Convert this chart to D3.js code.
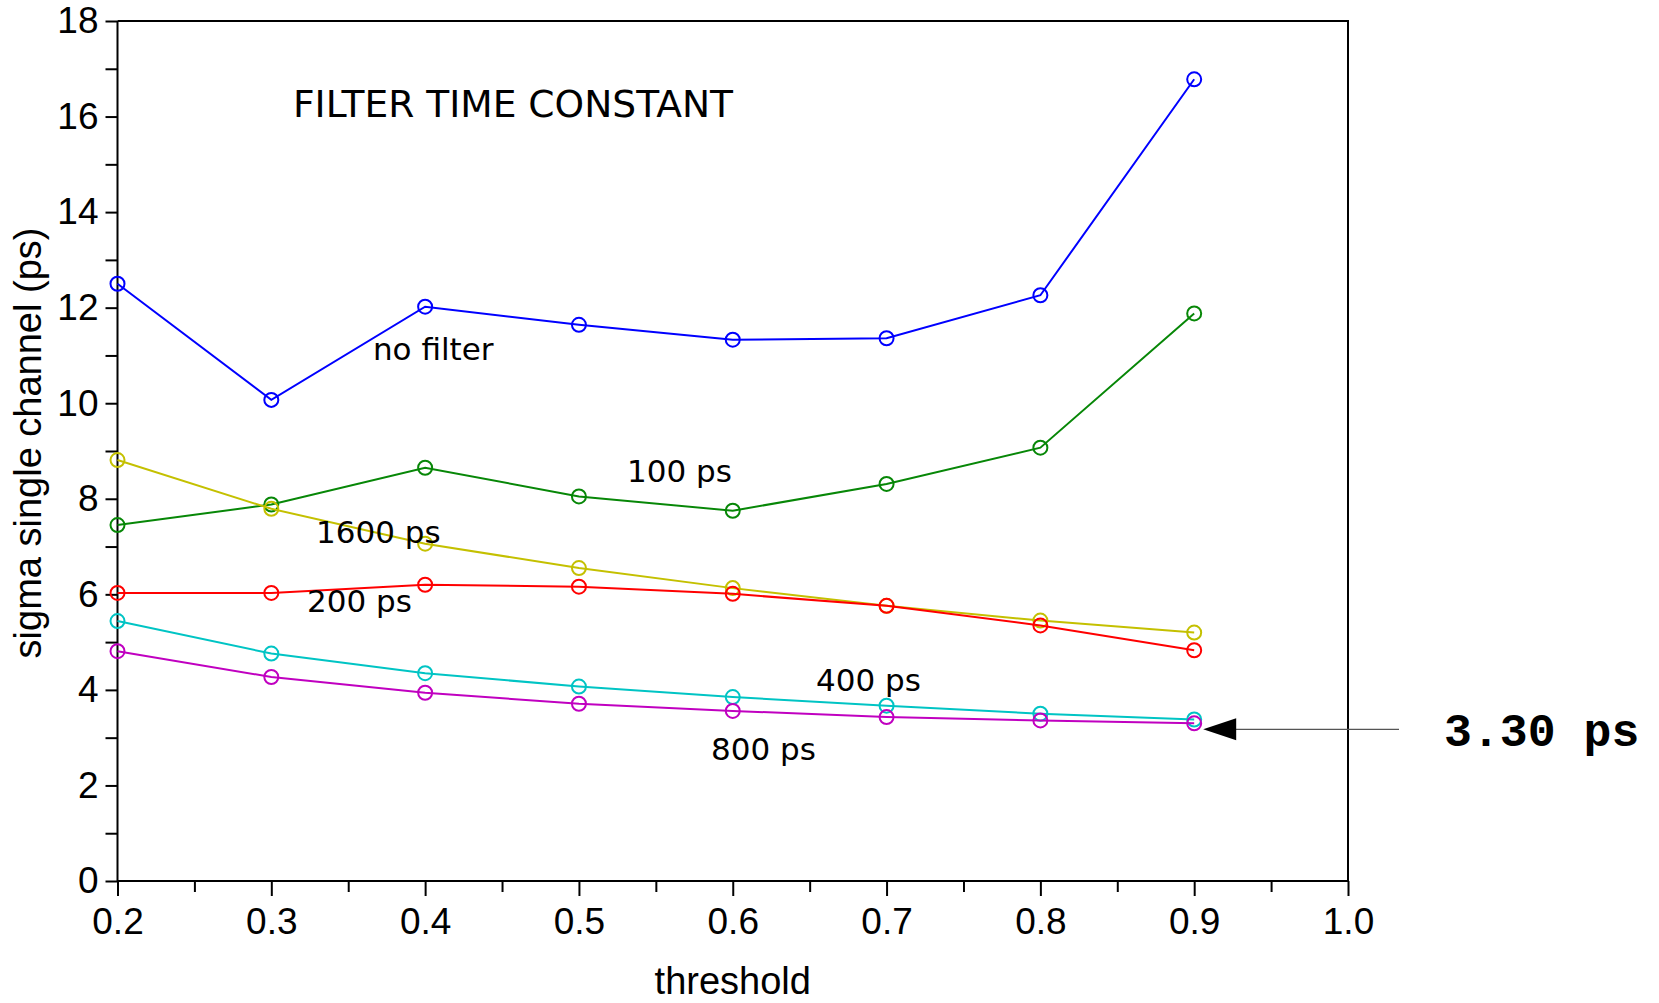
<!DOCTYPE html>
<html>
<head>
<meta charset="utf-8">
<script src="https://cdn.jsdelivr.net/npm/d3@7"></script>
<style>
  html, body { margin: 0; padding: 0; background: #fff; }
  svg { display: block; }
</style>
</head>
<body>
<svg id="chart" width="1659" height="1003"></svg>
<script>
// Threshold values shared by every series
const thresholds = [0.2, 0.3, 0.4, 0.5, 0.6, 0.7, 0.8, 0.9];

// Single-channel timing resolution (ps) for each filter time constant
const noFilter = [12.50, 10.07, 12.02, 11.64, 11.33, 11.36, 12.26, 16.78];
const filter100 = [7.45, 7.88, 8.65, 8.05, 7.75, 8.31, 9.07, 11.88];
const filter1600 = [8.81, 7.79, 7.06, 6.55, 6.13, 5.76, 5.45, 5.20];
const filter200 = [6.03, 6.03, 6.20, 6.16, 6.01, 5.76, 5.35, 4.83];
const filter400 = [5.44, 4.76, 4.35, 4.07, 3.85, 3.67, 3.50, 3.38];
const filter800 = [4.81, 4.27, 3.94, 3.71, 3.56, 3.43, 3.36, 3.30];

const seriesNames = ["no filter", "100 ps", "1600 ps", "200 ps", "400 ps", "800 ps"];
const seriesValues = [noFilter, filter100, filter1600, filter200, filter400, filter800];
const seriesColors = ["#0000ff", "#078707", "#c4c000", "#ff0000", "#00c4c4", "#c000c0"];

// Label anchors in data units (threshold, sigma)
const labelX = [0.3661, 0.5313, 0.3291, 0.3232, 0.6541, 0.5859];
const labelY = [10.9, 8.35, 7.07, 5.62, 3.98, 2.53];

const xTicks = [0.2, 0.3, 0.4, 0.5, 0.6, 0.7, 0.8, 0.9, 1.0];
const xMinorTicks = [0.25, 0.35, 0.45, 0.55, 0.65, 0.75, 0.85, 0.95];
const yTicks = [0, 2, 4, 6, 8, 10, 12, 14, 16, 18];
const yMinorTicks = [1, 3, 5, 7, 9, 11, 13, 15, 17];

const chartTitle = "FILTER TIME CONSTANT";
const xTitle = "threshold";
const yTitle = "sigma single channel (ps)";
const bestValue = 3.30;
const bestLabel = "3.30 ps";

const svg = d3.select("#chart");
const plotLeft = 117.5, plotRight = 1348, plotTop = 21, plotBottom = 881;

const x = d3.scaleLinear().domain([0.2, 1.0]).range([plotLeft, plotRight]);
const y = d3.scaleLinear().domain([0, 18]).range([plotBottom, plotTop]);

const sansAxis = "'Liberation Sans', Arial, sans-serif";
const sansLabel = "'DejaVu Sans', 'Noto Sans', sans-serif";

// Frame (top and right edges)
svg.append("path")
  .attr("d", `M${plotLeft},${plotTop}H${plotRight}V${plotBottom}`)
  .attr("fill", "none").attr("stroke", "#000").attr("stroke-width", 2);

// X axis
const xAxis = svg.append("g").attr("transform", `translate(0,${plotBottom})`)
  .call(d3.axisBottom(x).tickValues(xTicks).tickFormat(d3.format(".1f")).tickSize(15).tickPadding(12));
svg.append("g").attr("transform", `translate(0,${plotBottom})`)
  .call(d3.axisBottom(x).tickValues(xMinorTicks).tickFormat("").tickSize(11))
  .call(g => g.select(".domain").remove());

// Y axis
const yAxis = svg.append("g").attr("transform", `translate(${plotLeft},0)`)
  .call(d3.axisLeft(y).tickValues(yTicks).tickSize(12).tickPadding(7));
svg.append("g").attr("transform", `translate(${plotLeft},0)`)
  .call(d3.axisLeft(y).tickValues(yMinorTicks).tickFormat("").tickSize(12))
  .call(g => g.select(".domain").remove());

xAxis.select(".domain").attr("d", `M${plotLeft},0H${plotRight}`).attr("stroke-width", 2);
yAxis.select(".domain").attr("d", `M0,${plotTop}V${plotBottom}`).attr("stroke-width", 2);
svg.selectAll(".tick line").attr("stroke-width", 2);
svg.selectAll(".tick text")
  .attr("font-family", sansAxis).attr("font-size", 37).attr("fill", "#000");

// Axis titles
svg.append("text")
  .attr("x", (plotLeft + plotRight) / 2).attr("y", 994)
  .attr("text-anchor", "middle")
  .attr("font-family", sansAxis).attr("font-size", 38)
  .text(xTitle);
svg.append("text")
  .attr("transform", `translate(41,${(plotTop + plotBottom) / 2 - 8}) rotate(-90)`)
  .attr("text-anchor", "middle")
  .attr("font-family", sansAxis).attr("font-size", 38)
  .text(yTitle);

// Chart title inside the plot
svg.append("text")
  .attr("x", 293).attr("y", 117)
  .attr("font-family", sansLabel).attr("font-size", 37.6)
  .text(chartTitle);

// Series lines and open-circle markers
const line = d3.line().x((d, i) => x(thresholds[i])).y(d => y(d));
seriesValues.forEach((vals, k) => {
  const g = svg.append("g");
  g.append("path").datum(vals)
    .attr("d", line).attr("fill", "none")
    .attr("stroke", seriesColors[k]).attr("stroke-width", 2);
  g.selectAll("circle").data(vals).join("circle")
    .attr("cx", (d, i) => x(thresholds[i])).attr("cy", d => y(d))
    .attr("r", 7).attr("fill", "none")
    .attr("stroke", seriesColors[k]).attr("stroke-width", 2);
});

// Series labels
svg.append("g").selectAll("text").data(seriesNames).join("text")
  .attr("x", (d, i) => x(labelX[i])).attr("y", (d, i) => y(labelY[i]))
  .attr("font-family", sansLabel).attr("font-size", 31)
  .text(d => d);

// Arrow pointing at the best resolution point
const arrowY = y(bestValue) + 6;
const tipX = x(0.9) + 9;
svg.append("line")
  .attr("x1", tipX + 30).attr("x2", 1399)
  .attr("y1", arrowY).attr("y2", arrowY)
  .attr("stroke", "#555").attr("stroke-width", 1.2);
svg.append("path")
  .attr("d", `M${tipX},${arrowY}L${tipX + 33},${arrowY - 11}L${tipX + 33},${arrowY + 11}Z`)
  .attr("fill", "#000");
svg.append("text")
  .attr("x", 1444).attr("y", arrowY + 17)
  .attr("font-family", "'Liberation Mono', 'Courier New', monospace")
  .attr("font-weight", "bold").attr("font-size", 46.5)
  .text(bestLabel);
</script>
</body>
</html>
